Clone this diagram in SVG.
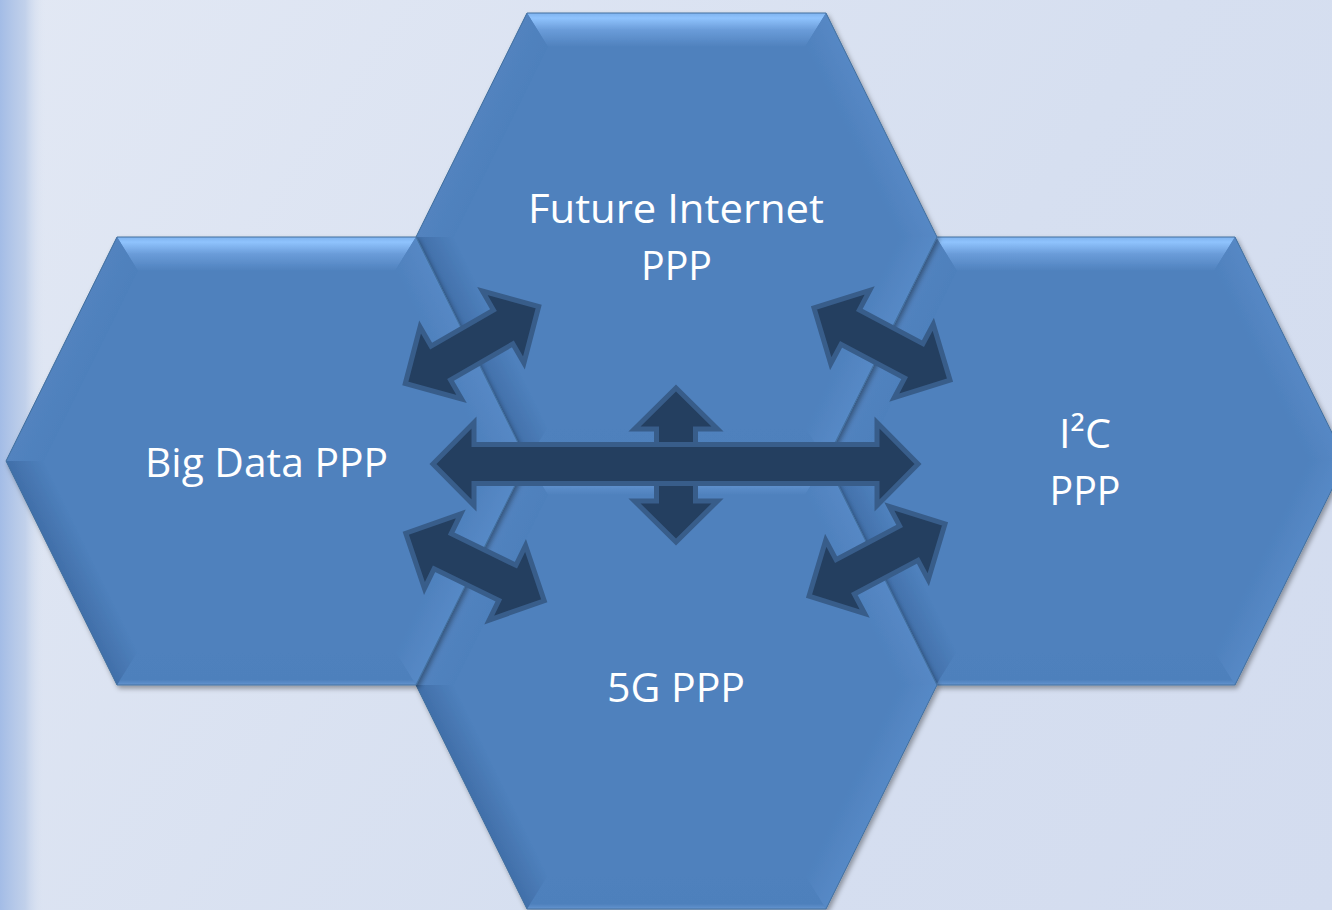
<svg xmlns="http://www.w3.org/2000/svg" xmlns:xlink="http://www.w3.org/1999/xlink" width="1332" height="910" viewBox="0 0 1332 910">
<style>
.lbl{font-family:"Open Sans","Noto Sans",sans-serif;font-size:41px;fill:#ffffff;text-anchor:middle}
.arr{fill:#243f60;stroke:#385d8a;stroke-width:5;stroke-linejoin:miter}
</style>
<defs>
<linearGradient id="bg" x1="0" y1="0" x2="1332" y2="910" gradientUnits="userSpaceOnUse">
<stop offset="0" stop-color="#e2e8f4"/><stop offset="0.6" stop-color="#d6dff0"/><stop offset="1" stop-color="#d3dcef"/>
</linearGradient>
<linearGradient id="strip" x1="0" y1="0" x2="46" y2="0" gradientUnits="userSpaceOnUse">
<stop offset="0" stop-color="#a3bce6"/><stop offset="0.55" stop-color="#bccde9" stop-opacity="0.85"/><stop offset="1" stop-color="#e0e7f3" stop-opacity="0"/>
</linearGradient>
<linearGradient id="gTop" x1="0" y1="-190" x2="0" y2="-224" gradientUnits="userSpaceOnUse">
<stop offset="0" stop-color="#4f81bd"/><stop offset="0.5" stop-color="#6a9cd9"/><stop offset="0.85" stop-color="#8fc3fd"/><stop offset="1" stop-color="#7fb3ef"/>
</linearGradient>
<linearGradient id="gBot" x1="0" y1="190" x2="0" y2="224" gradientUnits="userSpaceOnUse">
<stop offset="0" stop-color="#4f81bd"/><stop offset="0.85" stop-color="#4e80bc"/><stop offset="1" stop-color="#6494cf"/>
</linearGradient>
<linearGradient id="gUL" x1="-174.5" y1="-97" x2="-205" y2="-112" gradientUnits="userSpaceOnUse">
<stop offset="0" stop-color="#4e80bc"/><stop offset="1" stop-color="#5283bf"/>
</linearGradient>
<linearGradient id="gUR" x1="174.5" y1="-97" x2="205" y2="-112" gradientUnits="userSpaceOnUse">
<stop offset="0" stop-color="#4f81bd"/><stop offset="1" stop-color="#5688c5"/>
</linearGradient>
<linearGradient id="gLR" x1="174.5" y1="97" x2="205" y2="112" gradientUnits="userSpaceOnUse">
<stop offset="0" stop-color="#4f81bd"/><stop offset="1" stop-color="#5689c6"/>
</linearGradient>
<linearGradient id="gLL" x1="-174.5" y1="97" x2="-205" y2="112" gradientUnits="userSpaceOnUse">
<stop offset="0" stop-color="#4f81bd"/><stop offset="1" stop-color="#416fa9"/>
</linearGradient>
<filter id="sh" x="-10%" y="-10%" width="125%" height="125%">
<feDropShadow dx="2" dy="3" stdDeviation="2.5" flood-color="#000000" flood-opacity="0.35"/>
</filter>
<g id="hex">
<polygon points="-149.5,-224 149.5,-224 260.5,0 149.5,224 -149.5,224 -260.5,0" fill="#4f81bd"/>
<polygon points="-149.5,-224 149.5,-224 128.4,-190 -128.4,-190" fill="url(#gTop)"/>
<polygon points="149.5,-224 260.5,0 222.6,0 128.4,-190" fill="url(#gUR)"/>
<polygon points="260.5,0 149.5,224 128.4,190 222.6,0" fill="url(#gLR)"/>
<polygon points="149.5,224 -149.5,224 -128.4,190 128.4,190" fill="url(#gBot)"/>
<polygon points="-149.5,224 -260.5,0 -222.6,0 -128.4,190" fill="url(#gLL)"/>
<polygon points="-260.5,0 -149.5,-224 -128.4,-190 -222.6,0" fill="url(#gUL)"/>
<polygon points="-149.5,-224 149.5,-224 260.5,0 149.5,224 -149.5,224 -260.5,0" fill="none" stroke="#44719f" stroke-width="1"/>
</g>
<polygon id="dbl" points="-77,0 -36,-41.5 -36,-19.5 36,-19.5 36,-41.5 77,0 36,41.5 36,19.5 -36,19.5 -36,41.5"/>
</defs>
<rect x="0" y="0" width="1332" height="910" fill="url(#bg)"/>
<rect x="0" y="0" width="46" height="910" fill="url(#strip)"/>

<g id="node-i2c">
<use xlink:href="#hex" href="#hex" transform="translate(1085.5,461)" filter="url(#sh)"/>
<text class="lbl" x="1085" y="448" textLength="52" lengthAdjust="spacingAndGlyphs">I²C</text>
<text class="lbl" x="1085" y="505" textLength="71" lengthAdjust="spacingAndGlyphs">PPP</text>
</g>
<g id="node-5g">
<use xlink:href="#hex" href="#hex" transform="translate(676.5,685)" filter="url(#sh)"/>
<text class="lbl" x="676" y="702" textLength="138" lengthAdjust="spacingAndGlyphs">5G PPP</text>
</g>
<g id="node-future-internet">
<use xlink:href="#hex" href="#hex" transform="translate(676.5,237)" filter="url(#sh)"/>
<text class="lbl" x="676" y="223" textLength="296" lengthAdjust="spacingAndGlyphs">Future Internet</text>
<text class="lbl" x="676.5" y="280" textLength="71" lengthAdjust="spacingAndGlyphs">PPP</text>
</g>
<g id="node-big-data">
<use xlink:href="#hex" href="#hex" transform="translate(266.5,461)" filter="url(#sh)"/>
<text class="lbl" x="266.5" y="477" textLength="243" lengthAdjust="spacingAndGlyphs">Big Data PPP</text>
</g>

<g id="connectors">
<use xlink:href="#dbl" href="#dbl" class="arr" transform="translate(472,345) rotate(-30)"/>
<use xlink:href="#dbl" href="#dbl" class="arr" transform="translate(882,344) rotate(28)"/>
<use xlink:href="#dbl" href="#dbl" class="arr" transform="translate(475,567) rotate(26)"/>
<use xlink:href="#dbl" href="#dbl" class="arr" transform="translate(877,560) rotate(-28)"/>
<use xlink:href="#dbl" href="#dbl" class="arr" transform="translate(676,465) rotate(90)"/>
<polygon class="arr" points="433,464 474,422.5 474,444.5 877,444.5 877,422.5 918,464 877,505.5 877,483.5 474,483.5 474,505.5"/>
</g>
</svg>
